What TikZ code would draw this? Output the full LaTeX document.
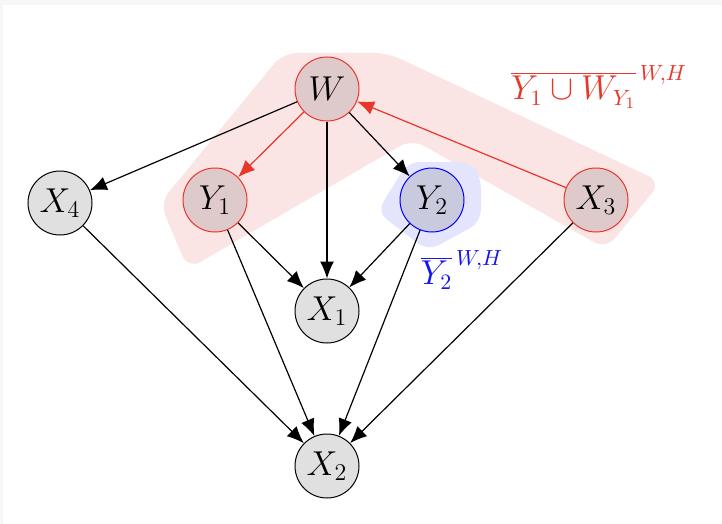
\documentclass[tikz,border=0pt]{standalone}
\usetikzlibrary{arrows.meta}
\definecolor{edgered}{RGB}{232,54,42}
\definecolor{haloRed}{RGB}{250,228,228}
\definecolor{haloBlue}{RGB}{228,228,252}
\definecolor{fillGrey}{RGB}{224,224,224}
\definecolor{fillRed}{RGB}{222,202,202}
\definecolor{fillBlue}{RGB}{202,202,222}
\definecolor{labelBlue}{RGB}{20,20,240}
\begin{document}
\begin{tikzpicture}[x=0.5pt,y=-0.5pt,
  var/.style={circle,draw=black,line width=0.5pt,fill=fillGrey,minimum size=32pt,inner sep=0pt,
    font=\fontsize{16.5}{20}\selectfont},
  redvar/.style={var,draw=edgered,fill=fillRed},
  bluevar/.style={var,draw=blue,fill=fillBlue},
  arr/.style={-{Latex[length=8.5pt,width=7pt]},line width=0.6pt},
  redarr/.style={arr,draw=edgered,color=edgered},
  setlabel/.style={font=\fontsize{16}{19}\selectfont,inner sep=0pt}]
  % canvas
  \useasboundingbox (0,0) rectangle (722,524);
  \fill[white] (0,0) rectangle (722,524);
  \fill[black!3] (0,0) rectangle (722,5);
  \fill[black!3] (0,0) rectangle (3,524);
  % highlighted regions
  \fill[haloRed,rounded corners=7pt] (160,203) -- (283,53) -- (388,53) -- (661,182)
    -- (606,249) -- (412,139) -- (188,269) -- cycle;
  \fill[haloBlue,rounded corners=6pt] (408,162) -- (472,162) -- (481,178) -- (481,222)
    -- (428,251) -- (377,212) -- cycle;
  % variables
  \node[redvar] (W) at (327,89) {$W$};
  \node[var] (X4) at (60,203) {$X_4$};
  \node[redvar] (Y1) at (215,200) {$Y_1$};
  \node[bluevar] (Y2) at (432,200) {$Y_2$};
  \node[redvar] (X3) at (596,200) {$X_3$};
  \node[var] (X1) at (327,311) {$X_1$};
  \node[var] (X2) at (327,466) {$X_2$};
  % set labels
  \node[setlabel,text=edgered] (LR) at (599,87) {$\overline{Y_1\cup W_{Y_1}}^{\,W,H}$};
  \node[setlabel,text=labelBlue] (LB) at (462,270) {$\overline{Y_2}^{\,W,H}$};
  % edges
  \draw[arr] (W) -- (X4);
  \draw[redarr] (W) -- (Y1);
  \draw[arr] (W) -- (X1);
  \draw[arr] (W) -- (Y2);
  \draw[redarr] (X3) -- (W);
  \draw[arr] (Y1) -- (X1);
  \draw[arr] (Y2) -- (X1);
  \draw[arr] (Y1) -- (X2);
  \draw[arr] (Y2) -- (X2);
  \draw[arr] (X4) -- (X2);
  \draw[arr] (X3) -- (X2);
\end{tikzpicture}
\end{document}
